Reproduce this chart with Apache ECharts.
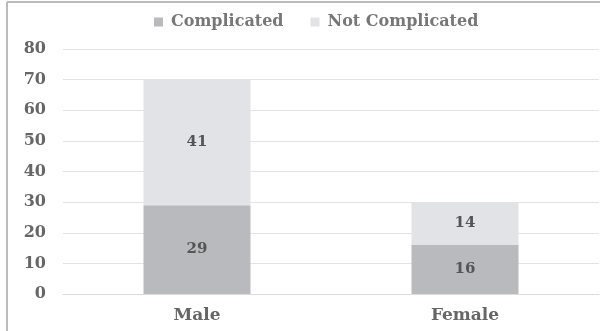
<!DOCTYPE html>
<html><head><meta charset="utf-8">
<script src="https://cdn.jsdelivr.net/npm/echarts@6/dist/echarts.min.js"></script>
<style>html,body{margin:0;padding:0;background:#fff}#c{width:600px;height:331px}</style>
</head><body><div id="c"></div>
<script>
const categories = ['Male', 'Female'];
const complicated = [29, 16];
const notComplicated = [41, 14];
const seriesNames = ['Complicated', 'Not Complicated'];

const chart = echarts.init(document.getElementById('c'), null, {renderer: 'canvas'});
const font = '"DejaVu Serif", "Liberation Serif", serif';
chart.setOption({
  animation: false,
  backgroundColor: '#fff',
  graphic: [
    {type: 'line', shape: {x1: 7, y1: 2, x2: 600, y2: 2}, style: {stroke: '#bbbbbb', lineWidth: 2}},
    {type: 'line', shape: {x1: 7, y1: 2, x2: 7, y2: 331}, style: {stroke: '#bbbbbb', lineWidth: 2}}
  ],
  legend: {
    top: 14, left: 154, padding: 0, itemWidth: 9, itemHeight: 9, itemGap: 27,
    icon: 'rect',
    textStyle: {fontFamily: font, fontWeight: 'bold', fontSize: 16, color: '#777', padding: [0, 0, 0, 3]},
    data: seriesNames
  },
  grid: {left: 63, right: 1, top: 49, bottom: 37},
  xAxis: {
    type: 'category', data: categories,
    axisLine: {show: true, lineStyle: {color: '#dcdcdc'}},
    axisTick: {show: false},
    axisLabel: {fontFamily: font, fontWeight: 'bold', fontSize: 17, color: '#666', margin: 13}
  },
  yAxis: {
    type: 'value', min: 0, max: 80, interval: 10,
    axisLine: {show: false}, axisTick: {show: false},
    splitLine: {lineStyle: {color: '#e3e3e3'}},
    axisLabel: {fontFamily: font, fontWeight: 'bold', fontSize: 16, color: '#666', margin: 17}
  },
  series: [
    {name: seriesNames[0], type: 'bar', stack: 'a', data: complicated, barWidth: 107,
     itemStyle: {color: '#b9babe'},
     label: {show: true, position: 'inside', fontFamily: font, fontWeight: 'bold', fontSize: 15, color: '#555'}},
    {name: seriesNames[1], type: 'bar', stack: 'a', data: notComplicated, barWidth: 107,
     itemStyle: {color: '#e2e3e6'},
     label: {show: true, position: 'inside', fontFamily: font, fontWeight: 'bold', fontSize: 15, color: '#555'}}
  ]
});
</script></body></html>
